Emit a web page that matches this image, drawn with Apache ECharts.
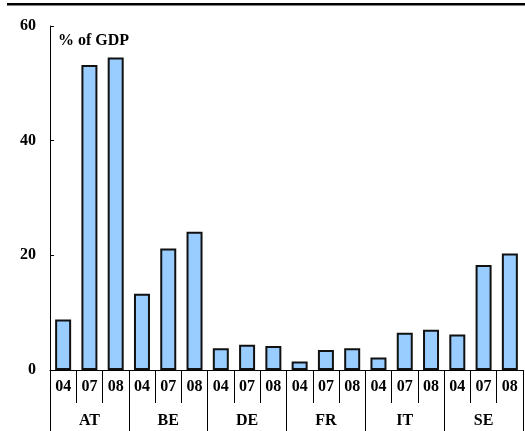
<!DOCTYPE html>
<html>
<head>
<meta charset="utf-8">
<script src="https://cdn.jsdelivr.net/npm/echarts@6/dist/echarts.min.js"></script>
<style>html,body{margin:0;padding:0;background:#fff;}#c{width:525px;height:431px;}</style>
</head>
<body>
<div id="c"></div>
<script>
var countries = ['AT', 'BE', 'DE', 'FR', 'IT', 'SE'];
var years = ['04', '07', '08'];
var values = [
  8.8, 53.2, 54.5,
  13.3, 21.2, 24.1,
  3.8, 4.4, 4.2,
  1.5, 3.5, 3.8,
  2.2, 6.5, 7.0,
  6.2, 18.3, 20.3
];
var yTicks = [0, 20, 40, 60];
var unitLabel = '% of GDP';

var yearCats = [];
countries.forEach(function (c) { years.forEach(function (y) { yearCats.push(c + '-' + y); }); });

var font = 'Liberation Serif, Times New Roman, serif';
var chart = echarts.init(document.getElementById('c'), null, { renderer: 'canvas' });
chart.setOption({
  animation: false,
  grid: { left: 50, right: 2, top: 26, bottom: 61 },
  graphic: [
    { type: 'rect', shape: { x: 7, y: 3, width: 518, height: 2.5 }, style: { fill: '#000' } },
    { type: 'text', left: 58, top: 33, style: { text: unitLabel, font: 'bold 16px ' + font, fill: '#000' } }
  ],
  xAxis: [
    {
      type: 'category', data: yearCats, position: 'bottom',
      axisLine: { show: true, lineStyle: { color: '#000', width: 1 } },
      axisTick: { show: true, interval: 0, length: 33, lineStyle: { color: '#000', width: 1 } },
      axisLabel: { interval: 0, margin: 9, formatter: function (v) { return v.split('-')[1]; },
        fontFamily: font, fontWeight: 'bold', fontSize: 16, color: '#000' }
    },
    {
      type: 'category', data: countries, position: 'bottom',
      axisLine: { show: false },
      axisTick: { show: true, interval: 0, length: 70, lineStyle: { color: '#000', width: 1 } },
      axisLabel: { interval: 0, margin: 43, fontFamily: font, fontWeight: 'bold', fontSize: 16, color: '#000' }
    }
  ],
  yAxis: {
    type: 'value', min: 0, max: 60, interval: 20,
    axisLine: { show: true, lineStyle: { color: '#000', width: 1 } },
    axisTick: { show: true, inside: true, length: 4, lineStyle: { color: '#000' } },
    splitLine: { show: false },
    axisLabel: { margin: 14, fontFamily: font, fontWeight: 'bold', fontSize: 16, color: '#000',
      formatter: function (v) { return yTicks.indexOf(v) >= 0 ? String(v) : ''; } }
  },
  series: [{
    type: 'bar', xAxisIndex: 0, data: values, barWidth: 16,
    itemStyle: { color: '#99CCFF', borderColor: '#111', borderWidth: 2 }
  }]
});
</script>
</body>
</html>
